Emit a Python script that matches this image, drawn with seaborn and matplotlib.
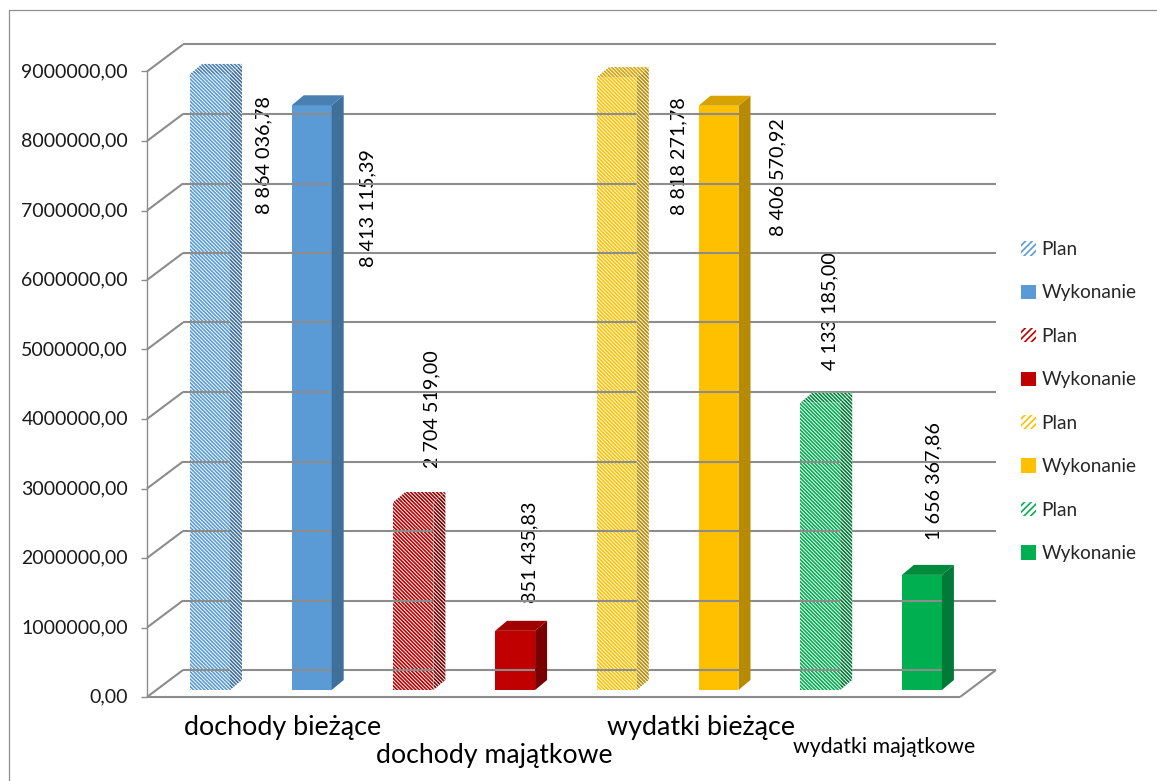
import matplotlib
matplotlib.use("Agg")
import matplotlib.pyplot as plt
import matplotlib.transforms as mtransforms
from matplotlib.patches import Polygon, Patch
from matplotlib.lines import Line2D
import seaborn as sns
import pandas as pd

# ---- data -------------------------------------------------------------
categories = ["dochody bieżące", "dochody majątkowe", "wydatki bieżące", "wydatki majątkowe"]
series_names = ["Plan", "Wykonanie"]
plan_values = [8864036.78, 2704519.00, 8818271.78, 4133185.00]
wykonanie_values = [8413115.39, 851435.83, 8406570.92, 1656367.86]
y_ticks = [0, 1000000, 2000000, 3000000, 4000000, 5000000,
           6000000, 7000000, 8000000, 9000000]

# ---- styling ----------------------------------------------------------
front_colors = ["#5B9BD5", "#C00000", "#FFC000", "#00B050"]
side_colors = ["#3F6F9B", "#7A0000", "#B88A00", "#007A36"]
top_colors = ["#4A7FB2", "#A00000", "#D8A200", "#008A3E"]
grid_color = "#8C8C8C"
hatch_bar = "\\" * 9

sns.set_theme(style="white")
plt.rcParams["font.family"] = ["Lato", "DejaVu Sans"]
plt.rcParams["hatch.linewidth"] = 1.2

rows = []
for g, cat in enumerate(categories):
    for s, name in enumerate(series_names):
        val = plan_values[g] if s == 0 else wykonanie_values[g]
        rows.append({"key": f"{g}{s}", "category": cat, "series": name,
                     "group": g, "value": val})
df = pd.DataFrame(rows)
palette = {r["key"]: front_colors[r["group"]] for r in rows}

W, H = 1157, 781
fig = plt.figure(figsize=(W / 100, H / 100), dpi=100)
fig.patch.set_facecolor("white")
ax = fig.add_axes([156 / W, 91 / H, 813 / W, 625.5 / H])
sns.barplot(data=df, x="key", y="value", hue="key", palette=palette,
            legend=False, width=0.393, saturation=1, errorbar=None, ax=ax)
ax.set_xlim(-0.531, 7.463)
ax.set_ylim(0, 9000000)
ax.axis("off")

ident = mtransforms.IdentityTransform()
FRONT = (-9, -7)   # front plane relative to the bar plane (pixels)
BACK = (27, 20)    # back wall relative to the bar plane (pixels)
BAR_DEPTH = (12, 10)


def disp(x, v, off=(0, 0)):
    X, Y = ax.transData.transform((x, v))
    return X + off[0], Y + off[1]


def line(p, q, color=grid_color, lw=1.5, z=0.5):
    fig.add_artist(Line2D([p[0], q[0]], [p[1], q[1]], transform=ident,
                          color=color, lw=lw, zorder=z, solid_capstyle="butt"))


xl, xr = ax.get_xlim()

# back wall gridlines and left side wall
for v in y_ticks:
    line(disp(xl, v, BACK), disp(xr, v, BACK))
    line(disp(xl, v, FRONT), disp(xl, v, BACK))
    fp = disp(xl, v, FRONT)
    line((fp[0] - 6, fp[1]), fp, lw=1.0)
    lab = f"{v:.2f}".replace(".", ",")
    fig.text(fp[0] - 19, fp[1], lab, transform=ident, ha="right", va="center",
             fontsize=14, color="#1a1a1a")

# front axis and floor edges
line(disp(xl, 0, FRONT), disp(xl, y_ticks[-1], FRONT), lw=1.0)
line(disp(xl, 0, FRONT), disp(xr, 0, FRONT))
line(disp(xr, 0, FRONT), disp(xr, 0, BACK))

# 3-D faces of the columns
bars = sorted(ax.patches, key=lambda p: p.get_x())
label_offsets = [(34, -81), (36, -103), (-2, 93), (-5, 79),
                 (42, -79), (39, -71), (-10, 92), (-8, 94)]
for i, p in enumerate(bars):
    g, is_plan = i // 2, i % 2 == 0
    x0 = p.get_x()
    x1 = x0 + p.get_width()
    h = p.get_height()
    X0, Y0 = disp(x0, 0)
    X1, Y1 = disp(x1, h)
    dx, dy = BAR_DEPTH
    side = [(X1, Y0), (X1, Y1), (X1 + dx, Y1 + dy), (X1 + dx, Y0 + dy)]
    top = [(X0, Y1), (X1, Y1), (X1 + dx, Y1 + dy), (X0 + dx, Y1 + dy)]
    p.set_zorder(3)
    if is_plan:
        p.set_facecolor("white")
        p.set_edgecolor(front_colors[g])
        p.set_hatch(hatch_bar)
        p.set_linewidth(0)
        for verts, col in ((side, side_colors[g]), (top, top_colors[g])):
            fig.add_artist(Polygon(verts, closed=True, transform=ident,
                                   facecolor="white", edgecolor=col,
                                   hatch=hatch_bar, lw=0, zorder=3))
    else:
        p.set_linewidth(0)
        fig.add_artist(Polygon(side, closed=True, transform=ident,
                               facecolor=side_colors[g], lw=0, zorder=3))
        fig.add_artist(Polygon(top, closed=True, transform=ident,
                               facecolor=top_colors[g], lw=0, zorder=3))
    txt = f"{h:,.2f}".replace(",", " ").replace(".", ",")
    ox, oy = label_offsets[i]
    ax.annotate(txt, xy=(x1, h), xytext=(ox * 0.72, oy * 0.72),
                textcoords="offset points", rotation=90, ha="center",
                va="center", fontsize=14.2, color="black", zorder=6,
                annotation_clip=False)

# category labels, staggered under the floor
cat_offsets = [(22, -37, 19.4), (30, -65, 19.2), (33, -37, 19.4), (13, -57, 15.3)]
for g, cat in enumerate(categories):
    ox, oy, fs = cat_offsets[g]
    ax.annotate(cat, xy=(2 * g + 0.5, 0), xytext=(ox * 0.72, oy * 0.72),
                textcoords="offset points", ha="center", va="center",
                fontsize=fs, color="black", annotation_clip=False)

# legend
handles = []
labels = []
for g in range(len(categories)):
    handles.append(Patch(facecolor="white", edgecolor=front_colors[g],
                         hatch="/////", lw=0))
    labels.append(series_names[0])
    handles.append(Patch(facecolor=front_colors[g], lw=0))
    labels.append(series_names[1])
fig.legend(handles, labels, loc="upper left",
           bbox_to_anchor=(1021 / W, (H - 241) / H), frameon=False,
           fontsize=13.7, handlelength=0.78, handleheight=0.78,
           handletextpad=0.3, labelspacing=1.39, borderpad=0,
           borderaxespad=0)

# outer frame (top and left edges)
fig.add_artist(Line2D([9 / W, 9 / W], [0, 1 - 10 / H], transform=fig.transFigure,
                      color="#8F8F8F", lw=0.9))
fig.add_artist(Line2D([9 / W, 1], [1 - 10 / H, 1 - 10 / H], transform=fig.transFigure,
                      color="#8F8F8F", lw=0.9))

fig.savefig("out.png", dpi=100, facecolor="white")
